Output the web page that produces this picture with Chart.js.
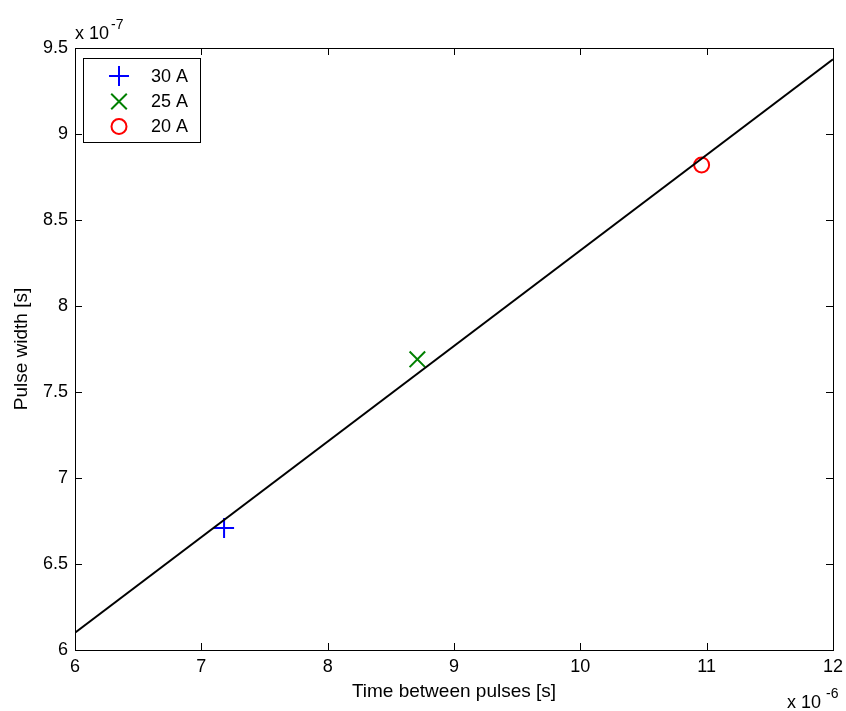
<!DOCTYPE html>
<html>
<head>
<meta charset="utf-8">
<script src="https://cdn.jsdelivr.net/npm/chart.js@4.4.0/dist/chart.umd.min.js"></script>
<style>
  html, body { margin: 0; padding: 0; background: #fff; }
</style>
</head>
<body>
<canvas id="chart" width="846" height="711"></canvas>
<script>
// x: time between pulses (x 1e-6 s), y: pulse width (x 1e-7 s)
const seriesLabels = ['30 A', '25 A', '20 A'];
const seriesColors = ['#0000ff', '#008000', '#ff0000'];
const seriesMarkers = ['cross', 'crossRot', 'circle'];
const pulseSpacing = [7.18, 8.71, 10.96];
const pulseWidth = [6.71, 7.69, 8.82];

// fitted line end points
const fitX = [6, 12];
const fitY = [6.10, 9.435];

const xTicks = [6, 7, 8, 9, 10, 11, 12];
const yTicks = [6, 6.5, 7, 7.5, 8, 8.5, 9, 9.5];

const FONT = 'Liberation Sans, Arial, sans-serif';

const pointDatasets = seriesLabels.map((label, i) => ({
    label: label,
    data: [{ x: pulseSpacing[i], y: pulseWidth[i] }],
    pointStyle: seriesMarkers[i],
    pointRadius: seriesMarkers[i] === 'circle' ? 7.5 : (seriesMarkers[i] === 'crossRot' ? 11 : 10),
    borderColor: seriesColors[i],
    backgroundColor: 'rgba(0,0,0,0)',
    pointBorderWidth: 2,
    showLine: false,
    order: i + 1
}));

const fitDataset = {
    label: 'fit',
    data: fitX.map((x, i) => ({ x: x, y: fitY[i] })),
    showLine: true,
    borderColor: '#000000',
    borderWidth: 2,
    pointRadius: 0,
    order: 0
};

// box, inward ticks, exponent labels and legend
const framePlugin = {
    id: 'frame',
    afterDatasetsDraw(chart) {
        const ctx = chart.ctx;
        const a = chart.chartArea;
        const xs = chart.scales.x;
        const ys = chart.scales.y;
        const tl = 7;

        ctx.save();
        ctx.strokeStyle = '#000';
        ctx.lineWidth = 1;
        ctx.strokeRect(Math.round(a.left) + 0.5, Math.round(a.top) + 0.5,
            Math.round(a.right - a.left), Math.round(a.bottom - a.top));

        ctx.beginPath();
        xTicks.forEach(v => {
            const px = Math.round(xs.getPixelForValue(v)) + 0.5;
            ctx.moveTo(px, a.bottom); ctx.lineTo(px, a.bottom - tl);
            ctx.moveTo(px, a.top); ctx.lineTo(px, a.top + tl);
        });
        yTicks.forEach(v => {
            const py = Math.round(ys.getPixelForValue(v)) + 0.5;
            ctx.moveTo(a.left, py); ctx.lineTo(a.left + tl, py);
            ctx.moveTo(a.right, py); ctx.lineTo(a.right - tl, py);
        });
        ctx.stroke();

        // axis multipliers
        ctx.fillStyle = '#000';
        ctx.textBaseline = 'alphabetic';
        ctx.textAlign = 'left';
        ctx.font = '18px ' + FONT;
        ctx.fillText('x 10', 75, 39);
        ctx.fillText('x 10', 787, 708);
        ctx.font = '14px ' + FONT;
        ctx.fillText('-7', 111, 29);
        ctx.fillText('-6', 826, 698);

        // legend
        const lx = 83.5, ly = 58.5, lw = 117, lh = 84;
        ctx.fillStyle = '#fff';
        ctx.fillRect(lx, ly, lw, lh);
        ctx.strokeStyle = '#000';
        ctx.lineWidth = 1;
        ctx.strokeRect(lx, ly, lw, lh);
        const rowY = [76, 101.5, 126.5];
        seriesLabels.forEach((label, i) => {
            const ds = pointDatasets[i];
            ctx.strokeStyle = ds.borderColor;
            ctx.fillStyle = 'rgba(0,0,0,0)';
            ctx.lineWidth = 2;
            Chart.helpers.drawPoint(ctx, {
                pointStyle: ds.pointStyle,
                radius: ds.pointRadius,
                rotation: 0,
                borderWidth: 2
            }, 119, rowY[i]);
            ctx.fillStyle = '#000';
            ctx.font = '18px ' + FONT;
            ctx.textBaseline = 'middle';
            ctx.fillText(label, 151, rowY[i] + 1);
        });
        ctx.restore();
    }
};

new Chart(document.getElementById('chart'), {
    type: 'scatter',
    data: { datasets: [fitDataset].concat(pointDatasets) },
    options: {
        responsive: false,
        animation: false,
        devicePixelRatio: 1,
        layout: { padding: { left: 0, right: 10, top: 48, bottom: 0 } },
        plugins: {
            legend: { display: false },
            tooltip: { enabled: false }
        },
        scales: {
            x: {
                type: 'linear',
                min: 6,
                max: 12,
                afterBuildTicks: s => { s.ticks = xTicks.map(v => ({ value: v })); },
                afterFit: s => { s.height = 61; s.paddingLeft = 0; s.paddingRight = 0; },
                grid: { display: false, drawTicks: false },
                border: { display: false },
                ticks: {
                    color: '#000', font: { family: FONT, size: 18 }, padding: 6,
                    maxRotation: 0, autoSkip: false, callback: v => String(v)
                },
                title: {
                    display: true,
                    text: 'Time between pulses [s]',
                    color: '#000',
                    font: { family: FONT, size: 19 },
                    padding: { top: 0, bottom: 8 }
                }
            },
            y: {
                type: 'linear',
                min: 6,
                max: 9.5,
                afterBuildTicks: s => { s.ticks = yTicks.map(v => ({ value: v })); },
                afterFit: s => { s.width = 75; s.paddingTop = 0; s.paddingBottom = 0; },
                grid: { display: false, drawTicks: false },
                border: { display: false },
                ticks: {
                    color: '#000', font: { family: FONT, size: 18 }, padding: 7,
                    autoSkip: false, callback: v => String(v)
                },
                title: {
                    display: true,
                    text: 'Pulse width [s]',
                    color: '#000',
                    font: { family: FONT, size: 19 },
                    padding: { top: 10, bottom: 0 }
                }
            }
        }
    },
    plugins: [framePlugin]
});
</script>
</body>
</html>
